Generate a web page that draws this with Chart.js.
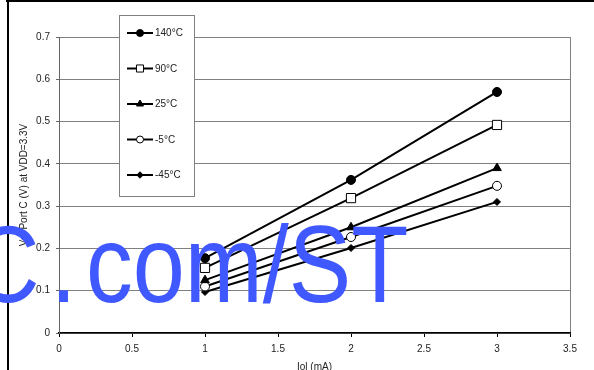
<!DOCTYPE html>
<html>
<head>
<meta charset="utf-8">
<script src="https://cdn.jsdelivr.net/npm/chart.js@4/dist/chart.umd.min.js"></script>
<style>
html,body{margin:0;padding:0;background:#fff;}
#wrap{position:relative;width:594px;height:370px;}
canvas{display:block;}
</style>
</head>
<body>
<div id="wrap"><canvas id="c" width="594" height="370"></canvas></div>
<script>
// ---- data ----
const xValues = [1, 2, 3];
const seriesLabels = ['140°C', '90°C', '25°C', '-5°C', '-45°C'];
const t140 = [0.177, 0.362, 0.570];
const t90 = [0.154, 0.319, 0.492];
const t25 = [0.125, 0.250, 0.390];
const tm5 = [0.110, 0.227, 0.348];
const tm45 = [0.097, 0.201, 0.310];
const xTickLabels = ['0', '0.5', '1', '1.5', '2', '2.5', '3', '3.5'];
const yTickLabels = ['0', '0.1', '0.2', '0.3', '0.4', '0.5', '0.6', '0.7'];
const xTitle = 'Iol (mA)';
const yTitle = 'Vol Port C (V) at VDD=3.3V';
const watermark = ['C', '.', 'com/ST'];

const FONT = '"Liberation Sans", Arial, Helvetica, sans-serif';

const styles = [
  {pointStyle: 'circle', radius: 4.5, bg: '#000', lr: 3.5},
  {pointStyle: 'rect', radius: 6.5, bg: '#fff', lr: 5},
  {pointStyle: 'triangle', radius: 5, bg: '#000', lr: 4},
  {pointStyle: 'circle', radius: 4.5, bg: '#fff', lr: 3.5},
  {pointStyle: 'rectRot', radius: 3.5, bg: '#000', lr: 3.2}
];
const seriesData = [t140, t90, t25, tm5, tm45];

const datasets = seriesData.map((vals, i) => ({
  label: seriesLabels[i],
  data: vals.map((v, j) => ({x: xValues[j], y: v})),
  borderColor: '#000',
  borderWidth: 2,
  pointStyle: styles[i].pointStyle,
  pointRadius: styles[i].radius,
  pointBackgroundColor: styles[i].bg,
  pointBorderColor: '#000',
  pointBorderWidth: 1,
  legendRadius: styles[i].lr,
  tension: 0
}));

const framePlugin = {
  id: 'frame',
  beforeDraw(chart) {
    const ctx = chart.ctx;
    ctx.save();
    ctx.fillStyle = '#fff';
    ctx.fillRect(0, 0, chart.width, chart.height);
    ctx.fillStyle = '#000';
    ctx.fillRect(6, 0, chart.width - 6, 2);
    ctx.fillRect(7, 0, 2, chart.height);
    ctx.restore();
  }
};

const legendPlugin = {
  id: 'boxLegend',
  afterDatasetsDraw(chart) {
    const ctx = chart.ctx;
    ctx.save();
    ctx.fillStyle = '#fff';
    ctx.strokeStyle = '#808080';
    ctx.lineWidth = 1;
    ctx.fillRect(119.5, 15.5, 75, 181);
    ctx.strokeRect(119.5, 15.5, 75, 181);
    const ys = [33, 68.5, 104, 139.5, 175];
    chart.data.datasets.forEach((ds, i) => {
      const y = ys[i];
      ctx.strokeStyle = '#000';
      ctx.lineWidth = 2;
      ctx.beginPath();
      ctx.moveTo(127, y);
      ctx.lineTo(153, y);
      ctx.stroke();
      ctx.fillStyle = ds.pointBackgroundColor;
      ctx.strokeStyle = '#000';
      ctx.lineWidth = 1;
      Chart.helpers.drawPoint(ctx, {pointStyle: ds.pointStyle, radius: ds.legendRadius, rotation: 0, borderWidth: 1}, 140, y);
      ctx.fillStyle = '#222';
      ctx.font = '10px ' + FONT;
      ctx.textBaseline = 'middle';
      ctx.textAlign = 'left';
      ctx.fillText(ds.label, 155, y + 0.5);
    });
    ctx.restore();
  },
  afterDraw(chart) {
    const ctx = chart.ctx;
    ctx.save();
    ctx.fillStyle = '#4058FF';
    ctx.font = '110px ' + FONT;
    ctx.textBaseline = 'alphabetic';
    ctx.textAlign = 'left';
    const pos = [-28, 50.5, 86];
    watermark.forEach((t, i) => {
      ctx.save();
      ctx.translate(pos[i], 302);
      ctx.scale(0.851, 1);
      ctx.fillText(t, 0, 0);
      ctx.restore();
    });
    ctx.restore();
  }
};

new Chart(document.getElementById('c'), {
  type: 'line',
  data: {datasets},
  plugins: [framePlugin, legendPlugin],
  options: {
    responsive: false,
    animation: false,
    devicePixelRatio: 1,
    layout: {padding: {left: 0, right: 24, top: 37, bottom: 0}},
    plugins: {legend: {display: false}, tooltip: {enabled: false}},
    scales: {
      x: {
        type: 'linear',
        min: 0, max: 3.5,
        ticks: {stepSize: 0.5, color: '#222', font: {family: FONT, size: 10}, padding: 6,
          callback: (v, i) => xTickLabels[i], maxRotation: 0, autoSkip: false},
        grid: {color: (c) => (c.tick && c.tick.value === 3.5) ? '#808080' : 'rgba(0,0,0,0)',
          tickColor: '#000', tickLength: 4, drawOnChartArea: true},
        border: {color: '#000', width: 1.5},
        title: {display: true, text: xTitle, color: '#222', font: {family: FONT, size: 10}, padding: {top: 0, bottom: -3}},
        afterFit: (s) => { s.height = 37; }
      },
      y: {
        type: 'linear',
        min: 0, max: 0.7,
        ticks: {stepSize: 0.1, color: '#222', font: {family: FONT, size: 10}, padding: 6,
          callback: (v, i) => yTickLabels[i]},
        grid: {color: '#808080', tickColor: '#666', tickLength: 3},
        border: {color: '#666', width: 1},
        title: {display: true, text: yTitle, color: '#222', font: {family: FONT, size: 10}, padding: {top: 18, bottom: 0}},
        afterFit: (s) => { s.width = 59; }
      }
    }
  }
});
</script>
</body>
</html>
